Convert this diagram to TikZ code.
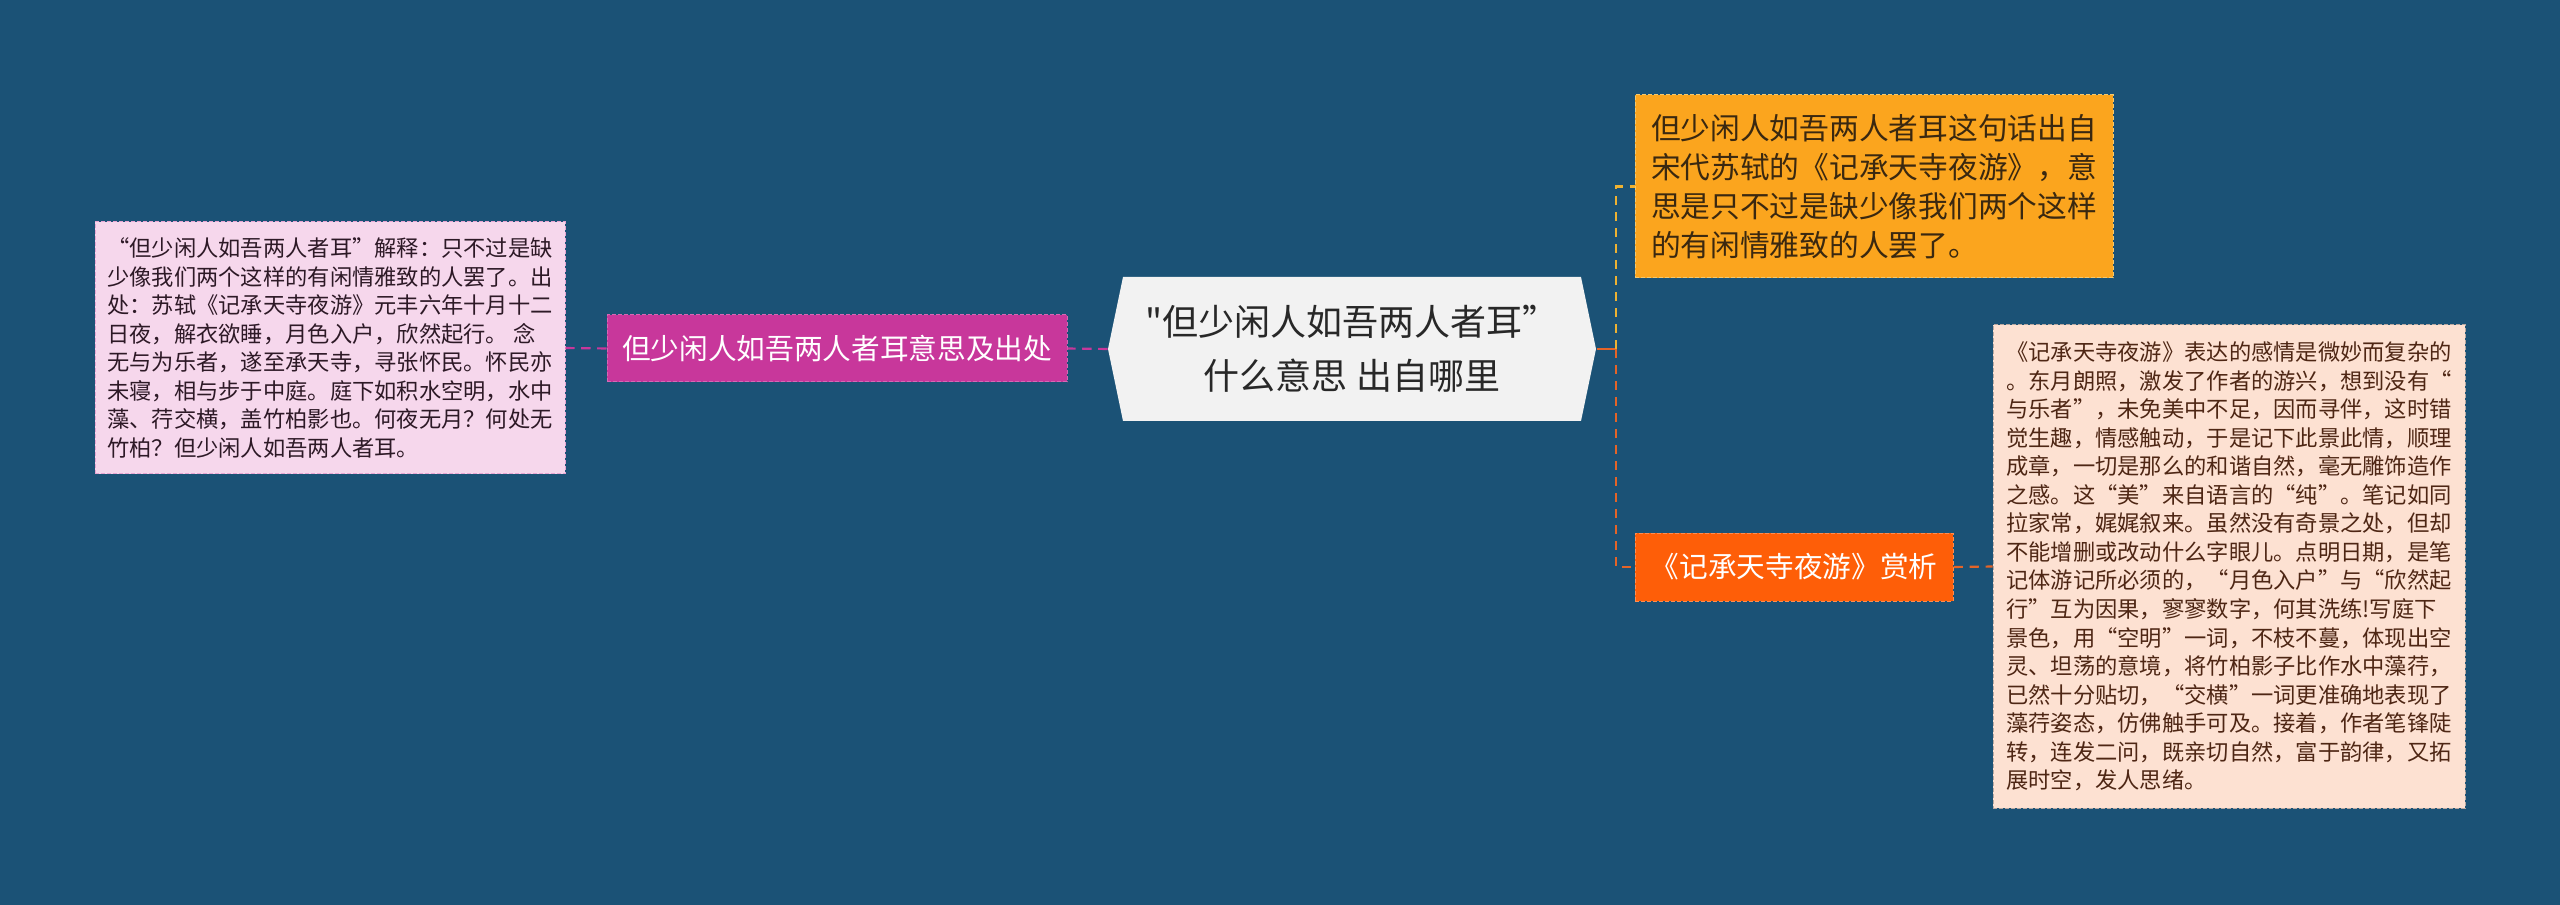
\documentclass[tikz,border=0pt]{standalone}
\usepackage{fontspec}
\setmainfont{Noto Sans CJK SC}[Ligatures=TeXOff]
\usepackage{tikz}
\usetikzlibrary{positioning}
\tikzset{every picture/.style={line width=0.75pt}}

\definecolor{bgblue}{RGB}{27,82,118}
\definecolor{rootgray}{RGB}{242,242,242}
\definecolor{roottext}{RGB}{40,40,40}
\definecolor{topicpink}{RGB}{200,55,155}
\definecolor{notepink}{RGB}{246,215,236}
\definecolor{notetext}{RGB}{45,25,38}
\definecolor{meaningorange}{RGB}{251,165,30}
\definecolor{meaningtext}{RGB}{58,40,16}
\definecolor{apprred}{RGB}{254,94,8}
\definecolor{reviewpeach}{RGB}{253,225,210}
\definecolor{reviewtext}{RGB}{78,38,20}
\definecolor{yellowlink}{RGB}{238,178,50}
\definecolor{orangelink}{RGB}{228,100,40}

\tikzset{
  leafbox/.style={draw, dash pattern=on 3pt off 1.5pt, line width=0.75pt, align=left, inner sep=0pt},
  link/.style={line width=1.6pt, dash pattern=on 7pt off 5pt},
  smalltext/.style={font=\fontsize{16.7}{21.4}\selectfont},
  bigtext/.style={font=\fontsize{21.5}{29.3}\selectfont}
}

\begin{document}
\begin{tikzpicture}[x=0.75pt,y=0.75pt,yscale=-1,xscale=1]
\useasboundingbox (0,0) rectangle (2560,905);
\fill[bgblue] (0,0) rectangle (2560,905);

%Shape: Hexagon [root]
\fill[rootgray] (1108,349) -- (1123,277) -- (1581,277) -- (1596,349) -- (1581,421) -- (1123,421) -- cycle;

% Text Node
\node (root) [inner sep=0pt, minimum width=366pt, minimum height=108pt, align=center, text=roottext, font=\fontsize{27}{40.5}\selectfont] at (1352,349) {"但少闲人如吾两人者耳”\\什么意思 出自哪里};
% Text Node
\node (topic) [leafbox, fill=topicpink, draw=topicpink!75!white, text=white, minimum width=345pt, minimum height=50.25pt, bigtext] at (837,348.5) {但少闲人如吾两人者耳意思及出处};
% Text Node
\node (note) [leafbox, fill=notepink, draw=topicpink!45!white, text=notetext, minimum width=352.5pt, minimum height=189pt, smalltext] at (330,348) {“但少闲人如吾两人者耳”解释：只不过是缺\\少像我们两个这样的有闲情雅致的人罢了。出\\处：苏轼《记承天寺夜游》元丰六年十月十二\\日夜，解衣欲睡，月色入户，欣然起行。 念\\无与为乐者，遂至承天寺，寻张怀民。怀民亦\\未寝，相与步于中庭。庭下如积水空明，水中\\藻、荇交横，盖竹柏影也。何夜无月？何处无\\竹柏？但少闲人如吾两人者耳。};
% Text Node
\node (meaning) [leafbox, fill=meaningorange, draw=yellowlink!70!white, text=meaningtext, minimum width=358.5pt, minimum height=137.25pt, font=\fontsize{22.3}{29.3}\selectfont] at (1874,186.5) {但少闲人如吾两人者耳这句话出自\\宋代苏轼的《记承天寺夜游》，意\\思是只不过是缺少像我们两个这样\\的有闲情雅致的人罢了。};
% Text Node
\node (appr) [leafbox, fill=apprred, draw=apprred!70!white, text=white, minimum width=238.5pt, minimum height=51pt, bigtext] at (1794,567) {《记承天寺夜游》赏析};
% Text Node
\node (review) [leafbox, fill=reviewpeach, draw=reviewtext!40!white, text=reviewtext, minimum width=354pt, minimum height=362.25pt, smalltext] at (2229,566.5) {《记承天寺夜游》表达的感情是微妙而复杂的\\。东月朗照，激发了作者的游兴，想到没有“\\与乐者”，未免美中不足，因而寻伴，这时错\\觉生趣，情感触动，于是记下此景此情，顺理\\成章，一切是那么的和谐自然，毫无雕饰造作\\之感。这“美”来自语言的“纯”。笔记如同\\拉家常，娓娓叙来。虽然没有奇景之处，但却\\不能增删或改动什么字眼儿。点明日期，是笔\\记体游记所必须的，“月色入户”与“欣然起\\行”互为因果，寥寥数字，何其洗练!写庭下\\景色，用“空明”一词，不枝不蔓，体现出空\\灵、坦荡的意境，将竹柏影子比作水中藻荇，\\已然十分贴切，“交横”一词更准确地表现了\\藻荇姿态，仿佛触手可及。接着，作者笔锋陡\\转，连发二问，既亲切自然，富于韵律，又拓\\展时空，发人思绪。};

%Straight Lines
\coordinate (fork) at (1616,349);
\draw[link, draw=topicpink] (root.west) -- (topic.east);
\draw[link, draw=topicpink] (topic.west) -- (note.east);
\draw[line width=1.6pt, draw=orangelink] (root.east) -- (fork);
\draw[link, draw=yellowlink] (fork) |- (meaning.west);
\draw[link, draw=orangelink] (fork) |- (appr.west);
\draw[link, draw=orangelink] (appr.east) -- (review.west);

\end{tikzpicture}
\end{document}
